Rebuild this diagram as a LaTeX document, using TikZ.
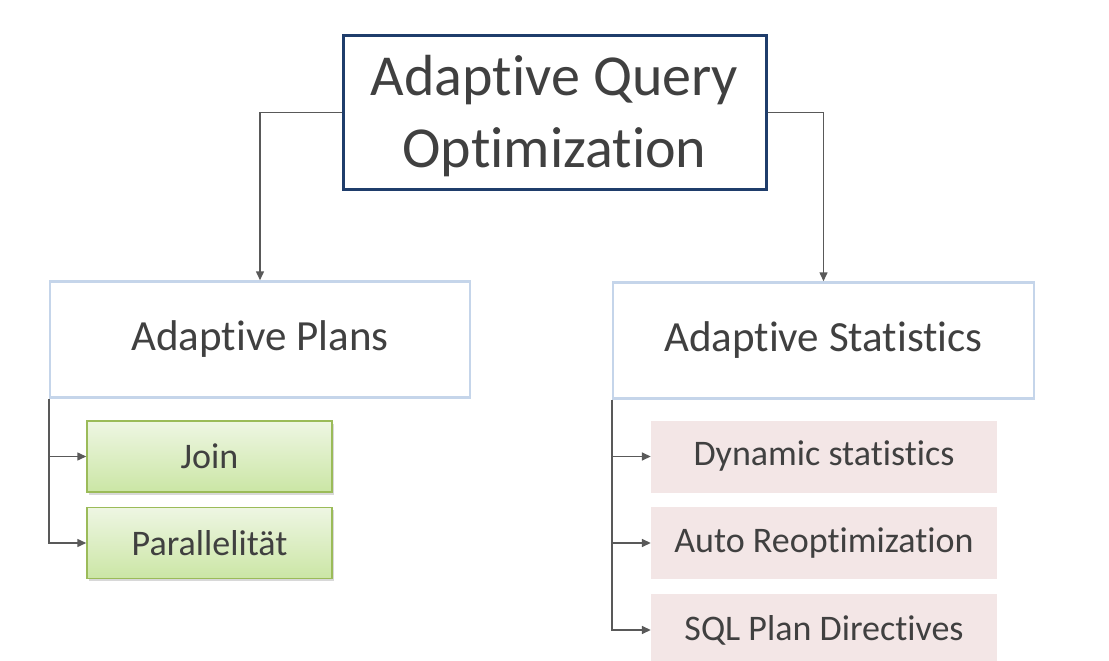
\documentclass[tikz,border=0pt]{standalone}
\usepackage{fontspec}
\setmainfont{Carlito}[Ligatures={NoCommon}]
\usetikzlibrary{arrows.meta,shadows}
\definecolor{txt}{HTML}{404040}
\definecolor{navy}{HTML}{1F3D6B}
\definecolor{lblue}{HTML}{C5D5EA}
\definecolor{gborder}{HTML}{9BBB59}
\definecolor{gtop}{HTML}{EEF6E3}
\definecolor{gbot}{HTML}{CBE6A5}
\definecolor{pink}{RGB}{243,230,230}
\definecolor{conncol}{HTML}{595959}
\tikzset{
  topbox/.style={draw=navy, line width=3pt, fill=white, minimum width=423pt, minimum height=153pt, inner sep=0pt},
  toptext/.style={align=center, text=txt, font=\fontsize{58}{72}\selectfont, inner sep=0pt},
  midbox/.style={draw=lblue, line width=2.5pt, fill=white, minimum width=420pt, minimum height=116pt, text=txt, font=\fontsize{43}{52}\selectfont, inner sep=0pt},
  greenbox/.style={draw=gborder, line width=1.5pt, top color=gtop, bottom color=gbot, minimum width=245pt, minimum height=71pt, text=txt, font=\fontsize{36}{44}\selectfont, inner sep=0pt, drop shadow={shadow xshift=1.5pt, shadow yshift=-2.5pt, opacity=0.3, fill=gray}},
  pinkbox/.style={fill=pink, minimum width=346pt, minimum height=72pt, text=txt, font=\fontsize{36}{44}\selectfont, inner sep=0pt},
  conn/.style={draw=conncol, line width=1.5pt, -{Triangle[length=9pt,width=8pt]}},
}
\begin{document}
\begin{tikzpicture}[x=1pt,y=-1pt]
\useasboundingbox[fill=white] (0,0) rectangle (1109,661);
\node[topbox] (top) at (554.5,112.5) {};
\node[toptext] (toptxt) at (554.5,116) {Adaptive Query\\Optimization};
\node[midbox] (plans) at (260,339.5) {Adaptive Plans};
\node[midbox, minimum width=421pt] (stats) at (823.5,340.5) {Adaptive Statistics};
\node[greenbox] (join) at (209.5,456.5) {Join};
\node[greenbox] (par) at (209.5,543) {Parallelität};
\node[pinkbox] (dyn) at (824,456.5) {Dynamic statistics};
\node[pinkbox] (auto) at (824,543) {Auto Reoptimization};
\node[pinkbox] (sql) at (824,630) {SQL Plan Directives};
\draw[conn] (top.west) -| (plans.north);
\draw[conn] (top.east) -| (stats.north);
\draw[conn] (plans.south west) |- (join.west);
\draw[conn] (plans.south west) |- (par.west);
\draw[conn] (stats.south west) |- (dyn.west);
\draw[conn] (stats.south west) |- (auto.west);
\draw[conn] (stats.south west) |- (sql.west);
\end{tikzpicture}
\end{document}
